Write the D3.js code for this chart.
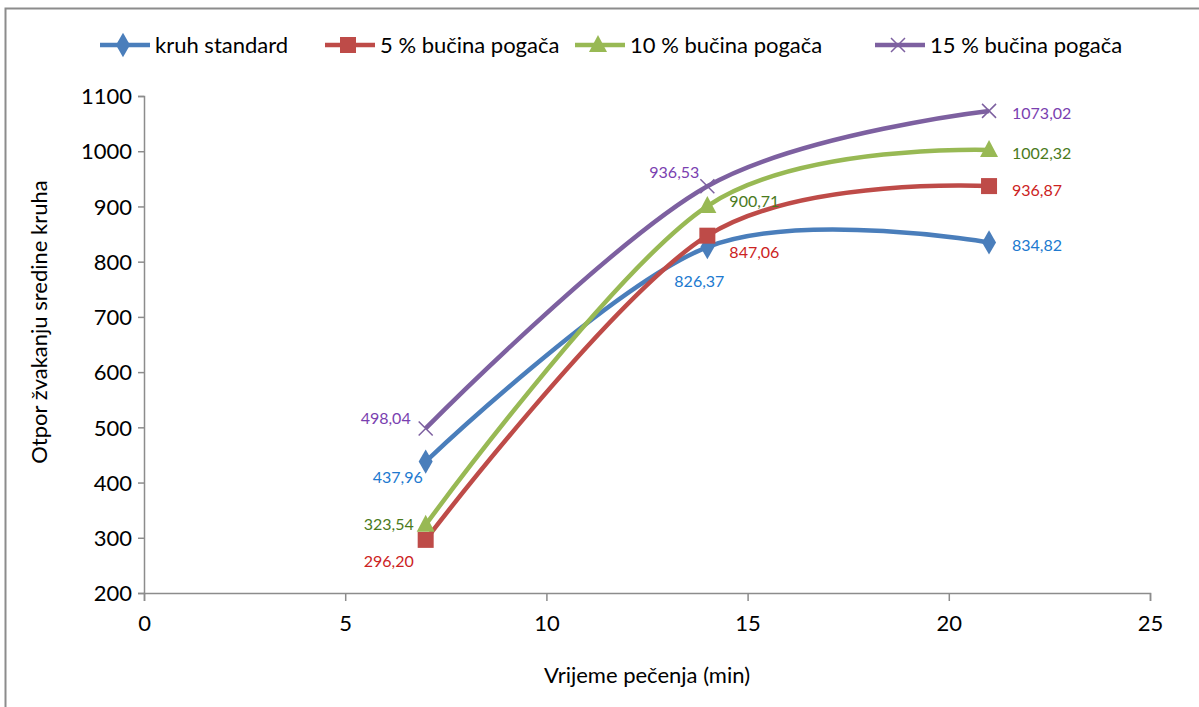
<!DOCTYPE html>
<html>
<head>
<meta charset="utf-8">
<script src="https://cdn.jsdelivr.net/npm/d3@7"></script>
<style>
  body { margin: 0; background: #fff; }
  text { font-family: Lato, "Open Sans", sans-serif; }
</style>
</head>
<body>
<svg id="chart" width="1199" height="707"></svg>
<script>

// data
var times = [7, 14, 21];
var seriesNames = ['kruh standard', '5 % bučina pogača', '10 % bučina pogača', '15 % bučina pogača'];
var standard = [437.96, 826.37, 834.82];
var pogaca5 = [296.20, 847.06, 936.87];
var pogaca10 = [323.54, 900.71, 1002.32];
var pogaca15 = [498.04, 936.53, 1073.02];
var xTicks = [0, 5, 10, 15, 20, 25];
var yTicks = [200, 300, 400, 500, 600, 700, 800, 900, 1000, 1100];

var lineColors = ['#4a7ebb', '#be4b48', '#98b954', '#7d60a0'];
var labelColors = ['#2079cf', '#cc2222', '#4a7a1c', '#7a3fb0'];
var markers = ['diamond', 'square', 'triangle', 'cross'];

// label offsets (dx, dy, anchor) for every point, per series
var labelPos = [
	[[-28, 16, 'middle'], [-8, 34, 'middle'], [23, 3, 'start']],
	[[-37, 22, 'middle'], [22, 17, 'start'], [23, 4, 'start']],
	[[-37, 0, 'middle'], [22, -5, 'start'], [23, 3, 'start']],
	[[-15, -10, 'end'], [-8, -14, 'end'], [23, 3, 'start']]
];

var allSeries = [standard, pogaca5, pogaca10, pogaca15];

var svg = d3.select('#chart');

// outer border
svg.append('path')
	.attr('d', 'M5.5,707 L5.5,8.5 L1199,8.5')
	.attr('fill', 'none')
	.attr('stroke', '#8c8c8c')
	.attr('stroke-width', 2);

var xScale = d3.scaleLinear().domain([0, 25]).range([144, 1150]);
var yScale = d3.scaleLinear().domain([200, 1100]).range([593, 96]);

// axes
var xAxis = svg.append('g')
	.attr('transform', 'translate(0,' + yScale(200) + ')')
	.call(d3.axisBottom(xScale).tickValues(xTicks).tickSize(8).tickPadding(14).tickFormat(d3.format('d')));

var yAxis = svg.append('g')
	.attr('transform', 'translate(' + xScale(0) + ',0)')
	.call(d3.axisLeft(yScale).tickValues(yTicks).tickSize(6).tickPadding(6).tickFormat(d3.format('d')));

[xAxis, yAxis].forEach(function(a) {
	a.select('.domain').attr('stroke', '#8c8c8c').attr('stroke-width', 1.5);
	a.selectAll('.tick line').attr('stroke', '#8c8c8c').attr('stroke-width', 1.5);
	a.selectAll('.tick text')
		.style('font-size', '22px')
		.style('fill', '#000');
});
yAxis.selectAll('.tick text').attr('dy', '0.35em');

// axis titles
svg.append('text')
	.attr('x', xScale(12.5))
	.attr('y', 683)
	.attr('text-anchor', 'middle')
	.style('font-size', '22px')
	.text('Vrijeme pečenja (min)');

svg.append('text')
	.attr('transform', 'translate(47,322) rotate(-90)')
	.attr('text-anchor', 'middle')
	.style('font-size', '22px')
	.text('Otpor žvakanju sredine kruha');

function drawMarker(g, type, x, y, color) {
	if (type == 'diamond') {
		g.append('path')
			.attr('d', d3.symbol().type(d3.symbolDiamond).size(170)())
			.attr('transform', 'translate(' + x + ',' + y + ')')
			.style('fill', color);
	} else if (type == 'square') {
		g.append('rect')
			.attr('x', x - 8).attr('y', y - 8)
			.attr('width', 16).attr('height', 16)
			.style('fill', color);
	} else if (type == 'triangle') {
		g.append('path')
			.attr('d', 'M' + x + ',' + (y - 10) + 'L' + (x + 9) + ',' + (y + 7) + 'L' + (x - 9) + ',' + (y + 7) + 'Z')
			.style('fill', color);
	} else {
		g.append('path')
			.attr('d', 'M' + (x - 7) + ',' + (y - 7) + 'L' + (x + 7) + ',' + (y + 7) + 'M' + (x - 7) + ',' + (y + 7) + 'L' + (x + 7) + ',' + (y - 7))
			.attr('stroke', color)
			.attr('stroke-width', 1.5);
	}
}

var line = d3.line()
	.x(function(d) { return xScale(d[0]); })
	.y(function(d) { return yScale(d[1]); })
	.curve(d3.curveCardinal.tension(0));

var fmt = function(v) { return v.toFixed(2).replace('.', ','); };

allSeries.forEach(function(vals, i) {
	var pts = times.map(function(t, j) { return [t, vals[j]]; });
	var g = svg.append('g');
	g.append('path')
		.datum(pts)
		.attr('d', line)
		.attr('fill', 'none')
		.attr('stroke', lineColors[i])
		.attr('stroke-width', 4.5);
	pts.forEach(function(p) {
		drawMarker(g, markers[i], xScale(p[0]), yScale(p[1]), lineColors[i]);
	});
});

// data labels on top
allSeries.forEach(function(vals, i) {
	times.forEach(function(t, j) {
		var lp = labelPos[i][j];
		svg.append('text')
			.attr('x', xScale(t) + lp[0])
			.attr('y', yScale(vals[j]) + lp[1])
			.attr('dy', '0.35em')
			.attr('text-anchor', lp[2])
			.style('font-size', '16px')
			.style('fill', labelColors[i])
			.text(fmt(vals[j]));
	});
});

// legend
var legendX = [100, 325, 575, 875];
var legend = svg.append('g');
seriesNames.forEach(function(name, i) {
	var x = legendX[i];
	legend.append('line')
		.attr('x1', x).attr('y1', 45)
		.attr('x2', x + 50).attr('y2', 45)
		.attr('stroke', lineColors[i])
		.attr('stroke-width', 4.5);
	drawMarker(legend, markers[i], x + 23, 45, lineColors[i]);
	legend.append('text')
		.attr('x', x + 55)
		.attr('y', 45)
		.attr('dy', '0.35em')
		.style('font-size', '22px')
		.text(name);
});

</script>
</body>
</html>
